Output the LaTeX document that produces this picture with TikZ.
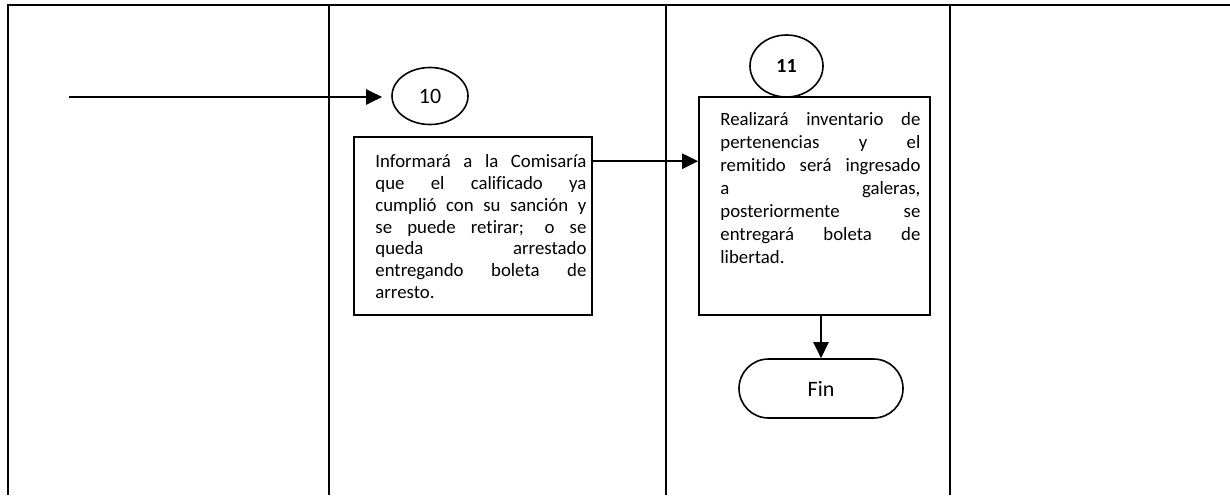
\documentclass[tikz,border=0pt]{standalone}
\usepackage{fontspec}
\setmainfont{Carlito}[Ligatures={NoCommon}]
\usetikzlibrary{arrows.meta,calc,shapes.geometric}
\begin{document}
\begin{tikzpicture}[x=1pt,y=-1pt,
  lane/.style={line width=2.4pt},
  box/.style={draw,line width=1.6pt,inner sep=0pt},
  conn/.style={draw,line width=2.3pt,-{Triangle[length=16pt,width=15pt]}},
  circ/.style={draw,line width=1.6pt,ellipse,inner sep=0pt},
  term/.style={draw,line width=1.6pt,rectangle,rounded corners=29.5pt,inner sep=0pt},
  txt/.style={anchor=base west,inner sep=0pt}
]
\useasboundingbox (0,0) rectangle (1230,495);
% lanes
\draw[lane] (7,5) -- (1230,5);
\draw[lane] (8,5) -- (8,495);
\draw[lane] (329,5) -- (329,495);
\draw[lane] (666,5) -- (666,495);
\draw[lane] (950,5) -- (950,495);
% nodes
\node[circ,minimum width=76pt,minimum height=57pt] (c10) at (430,96) {\fontsize{22}{26}\selectfont 10};
\node[box,minimum width=238pt,minimum height=178pt] (b1) at (473,226) {};
\node[txt] (t1) at ($(b1.north west)+(22,31.5)$) {\parbox[t]{211pt}{\fontsize{18.8}{21.8}\selectfont
\makebox[\linewidth][s]{Informará a la Comisaría}\\
\makebox[\linewidth][s]{que el calificado ya}\\
\makebox[\linewidth][s]{cumplió con su sanción y}\\
\makebox[\linewidth][s]{se puede retirar; o se}\\
\makebox[\linewidth][s]{queda arrestado}\\
\makebox[\linewidth][s]{entregando boleta de}\\
arresto.}};
\node[circ,minimum width=73pt,minimum height=62pt] (c11) at (786.5,66) {\fontsize{20}{24}\selectfont\bfseries 11};
\node[box,minimum width=231pt,minimum height=218pt] (b2) at (814.5,206) {};
\node[txt] (t2) at ($(b2.north west)+(22,29.5)$) {\parbox[t]{200pt}{\fontsize{18.8}{23}\selectfont
\makebox[\linewidth][s]{Realizará inventario de}\\
\makebox[\linewidth][s]{pertenencias y el}\\
\makebox[\linewidth][s]{remitido será ingresado}\\
\makebox[\linewidth][s]{a galeras,}\\
\makebox[\linewidth][s]{posteriormente se}\\
\makebox[\linewidth][s]{entregará boleta de}\\
libertad.}};
\node[term,minimum width=164pt,minimum height=59pt] (fin) at (821,388.5) {\fontsize{22}{26}\selectfont Fin};
% connectors
\coordinate (start) at (69,97);
\draw[conn,shorten >=9pt] (start) -- (start -| c10.west);
\coordinate (b1out) at ($(b1.north east)+(0,25)$);
\draw[conn] (b1out) -- (b1out -| b2.west);
\draw[conn] (b2.south -| fin.north) -- (fin.north);
\end{tikzpicture}
\end{document}
